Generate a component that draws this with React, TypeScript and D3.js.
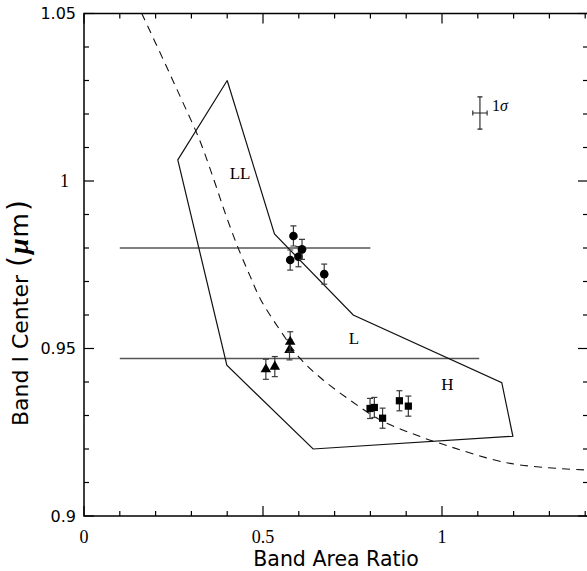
import React from "react";
import * as d3 from "d3";

const W = 587;
const H = 571;

// S-type region boundary (closed polygon)
const regionX = [0.4, 0.262, 0.399, 0.64, 1.198, 1.167, 0.752, 0.532, 0.4];
const regionY = [1.03, 1.0063, 0.945, 0.92, 0.9238, 0.9398, 0.96, 0.9842, 1.03];

// Dashed trend curve
const trendX = [0.161, 0.222, 0.273, 0.323, 0.363, 0.397, 0.431, 0.464, 0.494, 0.557, 0.603, 0.668, 0.743, 0.827, 0.939, 0.994, 1.19, 1.41];
const trendY = [1.0501, 1.0361, 1.0242, 1.0122, 1.0003, 0.9896, 0.9799, 0.9716, 0.9645, 0.954, 0.9471, 0.9406, 0.9346, 0.9287, 0.9237, 0.9217, 0.9157, 0.9137];

// Horizontal reference lines
const hLineY = [0.98, 0.947];
const hLineX0 = [0.1, 0.1];
const hLineX1 = [0.8, 1.104];

// Circles
const circleX = [0.585, 0.576, 0.599, 0.609, 0.671];
const circleY = [0.9836, 0.9764, 0.9774, 0.9796, 0.9722];
const circleErr = [0.003, 0.003, 0.003, 0.003, 0.003];

// Triangles
const triX = [0.508, 0.533, 0.574, 0.576];
const triY = [0.9438, 0.9446, 0.9496, 0.952];
const triErr = [0.003, 0.003, 0.003, 0.003];

// Squares
const sqX = [0.799, 0.811, 0.834, 0.881, 0.906];
const sqY = [0.9321, 0.9324, 0.9292, 0.9344, 0.9328];
const sqErr = [0.003, 0.003, 0.003, 0.003, 0.003];

// Region labels
const labelText = ["LL", "L", "H"];
const labelX = [0.436, 0.754, 1.015];
const labelY = [1.0023, 0.9531, 0.9394];

// 1-sigma marker
const sigmaX = 1.106;
const sigmaY = 1.0203;
const sigmaDX = 0.02;
const sigmaDY = 0.0048;

const xTicks = d3.range(0, 15).map((i) => i / 10);
const yTicks = d3.range(0, 16).map((i) => 0.9 + i / 100);
const xTickLabels = [
  { v: 0, t: "0" },
  { v: 0.5, t: "0.5" },
  { v: 1, t: "1" },
];
const yTickLabels = [
  { v: 0.9, t: "0.9", serif: false },
  { v: 0.95, t: "0.95", serif: false },
  { v: 1.0, t: "1", serif: true },
  { v: 1.05, t: "1.05", serif: false },
];

const LEFT = 84;
const TOP = 13.5;
const BOTTOM = 516;
const RIGHT_FRAME = 588;

const xs = d3.scaleLinear().domain([0, 1.4]).range([LEFT, 585.2]);
const ys = d3.scaleLinear().domain([0.9, 1.05]).range([BOTTOM, TOP]);

const SANS = "'DejaVu Sans', sans-serif";
const SERIF = "'Liberation Serif', 'DejaVu Serif', serif";

function ErrBar({ cx, y0, y1 }: { cx: number; y0: number; y1: number }) {
  const c = 3;
  return (
    <g stroke="#3a3a3a" strokeWidth={1.2}>
      <line x1={cx} x2={cx} y1={y0} y2={y1} />
      <line x1={cx - c} x2={cx + c} y1={y0} y2={y0} />
      <line x1={cx - c} x2={cx + c} y1={y1} y2={y1} />
    </g>
  );
}

export default function App() {
  const region = d3
    .line<number>()
    .x((_, i) => xs(regionX[i]))
    .y((_, i) => ys(regionY[i]))(regionX);
  const trend = d3
    .line<number>()
    .x((_, i) => xs(trendX[i]))
    .y((_, i) => ys(trendY[i]))
    .curve(d3.curveCatmullRom.alpha(0.5))(trendX);
  const tri = d3.symbol().type(d3.symbolTriangle).size(48)();
  const sq = d3.symbol().type(d3.symbolSquare).size(52)();

  return (
    <svg
      width={W}
      height={H}
      style={{ position: "absolute", left: 0, top: 0, background: "#fff" }}
    >
      <rect x={0} y={0} width={W} height={H} fill="#fff" />
      <defs>
        <clipPath id="plot">
          <rect x={LEFT} y={TOP} width={RIGHT_FRAME - LEFT} height={BOTTOM - TOP} />
        </clipPath>
      </defs>

      {/* frame */}
      <rect
        x={LEFT}
        y={TOP}
        width={RIGHT_FRAME - LEFT}
        height={BOTTOM - TOP}
        fill="none"
        stroke="#000"
        strokeWidth={1.5}
      />

      {/* x ticks */}
      {xTicks.map((v, i) => {
        const major = Math.abs(v * 2 - Math.round(v * 2)) < 1e-6;
        const len = major ? 10 : 5;
        return (
          <g key={"xt" + i} stroke="#000" strokeWidth={1.2}>
            <line x1={xs(v)} x2={xs(v)} y1={BOTTOM} y2={BOTTOM - len} />
            <line x1={xs(v)} x2={xs(v)} y1={TOP} y2={TOP + len} />
          </g>
        );
      })}
      {/* y ticks */}
      {yTicks.map((v, i) => {
        const major = i % 5 === 0;
        const len = major ? 10 : 5;
        return (
          <g key={"yt" + i} stroke="#000" strokeWidth={1.2}>
            <line x1={LEFT} x2={LEFT + len} y1={ys(v)} y2={ys(v)} />
            <line x1={RIGHT_FRAME} x2={RIGHT_FRAME - len} y1={ys(v)} y2={ys(v)} />
          </g>
        );
      })}

      {/* tick labels */}
      {xTickLabels.map((d) => (
        <text
          key={"xl" + d.t}
          x={xs(d.v)}
          y={543}
          textAnchor="middle"
          fontFamily={SERIF}
          fontSize={18}
          fill="#000"
        >
          {d.t}
        </text>
      ))}
      {yTickLabels.map((d) => (
        <text
          key={"yl" + d.t}
          x={d.serif ? 69 : 76}
          y={ys(d.v)}
          dy="0.36em"
          textAnchor="end"
          fontFamily={d.serif ? SERIF : SANS}
          fontSize={d.serif ? 18 : 16}
          fill="#000"
        >
          {d.t}
        </text>
      ))}

      {/* axis titles */}
      <text
        x={(LEFT + RIGHT_FRAME) / 2}
        y={566}
        textAnchor="middle"
        fontFamily={SANS}
        fontSize={20.5}
        fill="#000"
      >
        Band Area Ratio
      </text>
      <text
        transform={`translate(28, 426) rotate(-90)`}
        textAnchor="start"
        fontFamily={SANS}
        fontSize={22}
        fill="#000"
      >
        <tspan>Band I Center</tspan>
        <tspan dx={8} fontSize={28}>(</tspan>
        <tspan dx={2} fontFamily={SERIF} fontStyle="italic" fontWeight="bold" fontSize={28}>
          μ
        </tspan>
        <tspan dx={1} fontSize={25}>m</tspan>
        <tspan dx={2} fontSize={28}>)</tspan>
      </text>

      <g clipPath="url(#plot)">
        {/* horizontal lines */}
        {hLineY.map((v, i) => (
          <line
            key={"hl" + i}
            x1={xs(hLineX0[i])}
            x2={xs(hLineX1[i])}
            y1={ys(v)}
            y2={ys(v)}
            stroke="#555"
            strokeWidth={1.5}
          />
        ))}

        {/* region polygon */}
        <path d={region || ""} fill="none" stroke="#111" strokeWidth={1.2} />

        {/* dashed trend */}
        <path
          d={trend || ""}
          fill="none"
          stroke="#111"
          strokeWidth={1.1}
          strokeDasharray="8,6"
        />

        {/* circles */}
        {circleX.map((v, i) => (
          <g key={"c" + i}>
            <ErrBar
              cx={xs(v)}
              y0={ys(circleY[i] + circleErr[i])}
              y1={ys(circleY[i] - circleErr[i])}
            />
            <circle cx={xs(v)} cy={ys(circleY[i])} r={4.3} fill="#000" />
          </g>
        ))}

        {/* triangles */}
        {triX.map((v, i) => (
          <g key={"t" + i}>
            <ErrBar
              cx={xs(v)}
              y0={ys(triY[i] + triErr[i])}
              y1={ys(triY[i] - triErr[i])}
            />
            <path
              d={tri || ""}
              transform={`translate(${xs(v)},${ys(triY[i])})`}
              fill="#000"
            />
          </g>
        ))}

        {/* squares */}
        {sqX.map((v, i) => (
          <g key={"s" + i}>
            <ErrBar
              cx={xs(v)}
              y0={ys(sqY[i] + sqErr[i])}
              y1={ys(sqY[i] - sqErr[i])}
            />
            <path
              d={sq || ""}
              transform={`translate(${xs(v)},${ys(sqY[i])})`}
              fill="#000"
            />
          </g>
        ))}

        {/* region labels */}
        {labelText.map((t, i) => (
          <text
            key={"lab" + t}
            x={xs(labelX[i])}
            y={ys(labelY[i])}
            dy="0.35em"
            textAnchor="middle"
            fontFamily={SERIF}
            fontSize={17}
            fill="#000"
          >
            {t}
          </text>
        ))}

        {/* 1 sigma marker */}
        <g stroke="#222" strokeWidth={1.1}>
          <line
            x1={xs(sigmaX - sigmaDX)}
            x2={xs(sigmaX + sigmaDX)}
            y1={ys(sigmaY)}
            y2={ys(sigmaY)}
          />
          <line
            x1={xs(sigmaX - sigmaDX)}
            x2={xs(sigmaX - sigmaDX)}
            y1={ys(sigmaY) - 2.5}
            y2={ys(sigmaY) + 2.5}
          />
          <line
            x1={xs(sigmaX + sigmaDX)}
            x2={xs(sigmaX + sigmaDX)}
            y1={ys(sigmaY) - 2.5}
            y2={ys(sigmaY) + 2.5}
          />
          <line
            x1={xs(sigmaX)}
            x2={xs(sigmaX)}
            y1={ys(sigmaY + sigmaDY)}
            y2={ys(sigmaY - sigmaDY)}
          />
          <line
            x1={xs(sigmaX) - 2.5}
            x2={xs(sigmaX) + 2.5}
            y1={ys(sigmaY + sigmaDY)}
            y2={ys(sigmaY + sigmaDY)}
          />
          <line
            x1={xs(sigmaX) - 2.5}
            x2={xs(sigmaX) + 2.5}
            y1={ys(sigmaY - sigmaDY)}
            y2={ys(sigmaY - sigmaDY)}
          />
        </g>
        <text
          x={xs(sigmaX) + 12}
          y={ys(sigmaY) - 2}
          fontFamily={SERIF}
          fontSize={16}
          fill="#000"
        >
          1<tspan fontStyle="italic">σ</tspan>
        </text>
      </g>
    </svg>
  );
}
